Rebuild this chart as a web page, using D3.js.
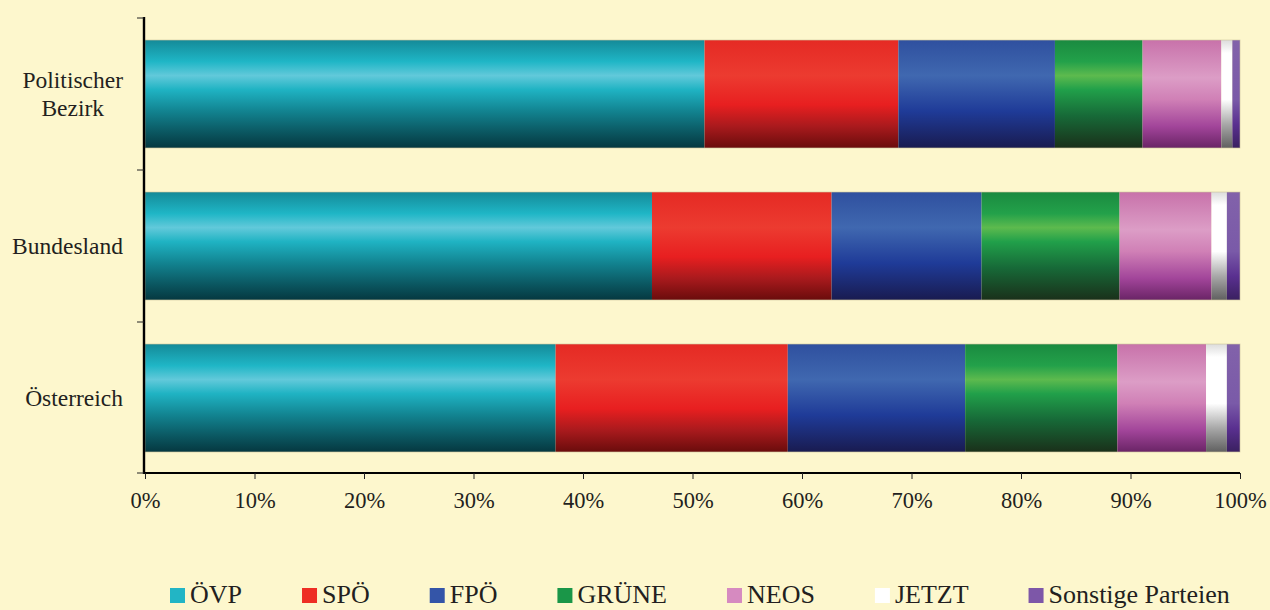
<!DOCTYPE html>
<html><head><meta charset="utf-8">
<script src="https://cdn.jsdelivr.net/npm/d3@7"></script>
<style>
html,body{margin:0;padding:0;background:#FDF7CD;}
svg{display:block;}
text{font-family:"Liberation Serif","Times New Roman",serif;fill:#231f20;}
</style></head>
<body><svg id="c" width="1270" height="610"></svg>
<script>
const categories = ["Politischer Bezirk", "Bundesland", "Österreich"];
const parties = ["ÖVP", "SPÖ", "FPÖ", "GRÜNE", "NEOS", "JETZT", "Sonstige Parteien"];
const valuesBezirk     = [51.1, 17.7, 14.3, 8.0, 7.2, 1.0, 0.7];
const valuesBundesland = [46.3, 16.4, 13.7, 12.6, 8.4, 1.4, 1.2];
const valuesOesterreich= [37.5, 21.2, 16.2, 13.9, 8.1, 1.9, 1.2];
const xTicks = [0,10,20,30,40,50,60,70,80,90,100];

const legendColors = ["#22b5c5","#ee2e24","#3455a8","#1a9648","#d68ac0","#ffffff","#7d57a8"];
const gradStops = [
  [[0,"#148a98"],[0.2,"#1fb6c6"],[0.33,"#62c9da"],[0.46,"#1fb3c3"],[0.66,"#128390"],[0.85,"#0b5862"],[1,"#053840"]],
  [[0,"#e52a24"],[0.33,"#ec3b30"],[0.6,"#e81f20"],[0.8,"#a91a1d"],[1,"#6a0c0c"]],
  [[0,"#2f509f"],[0.33,"#4068b0"],[0.66,"#1f3b98"],[1,"#191b50"]],
  [[0,"#1a8a40"],[0.2,"#23a14a"],[0.33,"#5dba4e"],[0.46,"#21a04a"],[0.7,"#176a38"],[1,"#1a301a"]],
  [[0,"#c872aa"],[0.35,"#dc9dc6"],[0.55,"#d080b6"],[0.8,"#a2459a"],[1,"#6a2466"]],
  [[0,"#dcdcdc"],[0.12,"#ffffff"],[0.55,"#ffffff"],[0.78,"#a8a8a8"],[1,"#606060"]],
  [[0,"#8262aa"],[0.55,"#7a5aa8"],[0.78,"#5a3090"],[1,"#3a2060"]]
];

const rows = [valuesBezirk, valuesBundesland, valuesOesterreich].map((v,i)=>{
  const o = {cat: categories[i]};
  parties.forEach((p,j)=> o[p]=v[j]);
  return o;
});

const svg = d3.select("#c");
const defs = svg.append("defs");
parties.forEach((p,i)=>{
  const g = defs.append("linearGradient").attr("id","g"+i)
    .attr("x1",0).attr("y1",0).attr("x2",0).attr("y2",1);
  gradStops[i].forEach(s=> g.append("stop").attr("offset",s[0]).attr("stop-color",s[1]));
});

const x = d3.scaleLinear().domain([0,100]).range([145,1240]);
const y = d3.scaleBand().domain(categories).range([18,474]).paddingInner(0.29).paddingOuter(0.145);

const stack = d3.stack().keys(parties);
const series = stack(rows);

const gBars = svg.append("g");
series.forEach((s,i)=>{
  gBars.selectAll(null).data(s).enter().append("rect")
    .attr("x", d=>x(d[0]))
    .attr("y", d=>y(d.data.cat))
    .attr("width", d=>x(d[1])-x(d[0]))
    .attr("height", y.bandwidth())
    .attr("fill","url(#g"+i+")");
});
gBars.selectAll(null).data(rows).enter().append("rect")
  .attr("x", x(0)).attr("y", d=>y(d.cat))
  .attr("width", x(100)-x(0)).attr("height", y.bandwidth())
  .attr("fill","none").attr("stroke","#c9bf9a").attr("stroke-width",0.8).attr("opacity",0.7);

// X axis
const xAxis = d3.axisBottom(x).tickValues(xTicks).tickFormat(d=>d+"%").tickSize(6).tickSizeOuter(0);
const gx = svg.append("g").attr("transform","translate(0,473)").call(xAxis);
gx.select(".domain").attr("stroke","#000").attr("stroke-width",2.2).attr("d","M144,0H1240");
gx.selectAll(".tick line").attr("stroke","#222").attr("stroke-width",1);
gx.selectAll(".tick text").attr("font-size","22.5px").attr("font-family","Liberation Serif, serif").attr("fill","#231f20").attr("dy",0).attr("y",35);

// Y axis
const step = y.step();
const bounds = categories.map(c=> y(c) - step*y.paddingInner()/2);
bounds.push(473);
const gy = svg.append("g");
gy.append("line").attr("x1",144).attr("x2",144).attr("y1",17).attr("y2",474).attr("stroke","#000").attr("stroke-width",2.4);
gy.selectAll(null).data(bounds).enter().append("line")
  .attr("x1",137).attr("x2",144).attr("y1",d=>d).attr("y2",d=>d).attr("stroke","#222").attr("stroke-width",1);

// Category labels
categories.forEach(c=>{
  const words = c === "Politischer Bezirk" ? ["Politischer","Bezirk"] : [c];
  const cy = y(c) + y.bandwidth()/2;
  const lh = 28;
  const t = svg.append("text").attr("font-size","23.5px").attr("text-anchor","middle");
  words.forEach((w,k)=>{
    t.append("tspan").attr("x",0).attr("y", cy + 8 + (k - (words.length-1)/2)*lh).text(w);
  });
  let mw = 0;
  t.selectAll("tspan").each(function(){ mw = Math.max(mw, this.getComputedTextLength()); });
  t.attr("transform","translate("+(123 - mw/2)+",0)");
});

// Legend
const lg = svg.append("g");
let lx = 170;
parties.forEach((p,i)=>{
  lg.append("rect").attr("x",lx).attr("y",588).attr("width",15).attr("height",15).attr("fill",legendColors[i]);
  const t = lg.append("text").attr("x",lx+20).attr("y",603).attr("font-size","26px").text(p);
  lx += 20 + t.node().getComputedTextLength() + 60;
});
</script></body></html>
